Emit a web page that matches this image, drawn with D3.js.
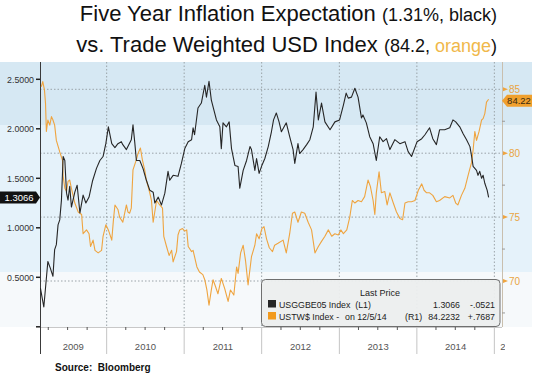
<!DOCTYPE html>
<html>
<head>
<meta charset="utf-8">
<script src="https://cdnjs.cloudflare.com/ajax/libs/d3/7.8.5/d3.min.js"></script>
<style>
  body { margin: 0; background: #fff; }
  svg { display: block; font-family: "Liberation Sans", Arial, sans-serif; }
</style>
</head>
<body>
<div class="chart"></div>
<script>
// USGGBE05 Index (left axis)
const breakeven = [
  ["2009-02-23",0.39],["2009-03-11",0.20],["2009-03-30",0.66],["2009-04-11",0.59],["2009-04-23",0.51],["2009-05-01",0.78],
  ["2009-05-09",0.83],["2009-05-17",1.03],["2009-05-25",1.08],["2009-06-02",1.28],["2009-06-10",1.72],["2009-06-18",1.68],
  ["2009-06-26",1.35],["2009-07-03",1.28],["2009-07-11",1.42],["2009-07-19",1.21],["2009-08-04",1.36],["2009-08-15",1.43],
  ["2009-08-28",1.15],["2009-09-12",1.33],["2009-09-25",1.25],["2009-10-10",1.31],["2009-10-26",1.47],["2009-11-14",1.60],
  ["2009-11-30",1.68],["2009-12-15",1.72],["2009-12-28",1.85],
  ["2010-01-09",2.02],["2010-01-25",1.85],["2010-02-09",1.81],["2010-02-23",1.85],["2010-03-11",1.87],["2010-03-18",1.84],
  ["2010-04-04",1.79],["2010-04-27",1.89],["2010-05-05",2.04],["2010-05-13",1.87],["2010-05-21",1.68],["2010-06-06",1.68],
  ["2010-06-21",1.60],["2010-07-07",1.48],["2010-07-23",1.38],["2010-08-08",1.36],["2010-08-16",1.25],["2010-09-01",1.31],
  ["2010-09-16",1.23],["2010-10-02",1.35],["2010-10-17",1.57],["2010-10-25",1.48],["2010-11-10",1.53],["2010-12-03",1.52],
  ["2010-12-19",1.65],
  ["2011-01-04",1.80],["2011-01-20",1.87],["2011-02-05",1.89],["2011-02-12",2.01],["2011-02-19",1.94],["2011-03-07",2.21],
  ["2011-03-23",2.26],["2011-04-08",2.44],["2011-04-16",2.32],["2011-04-28",2.48],["2011-05-09",2.29],["2011-06-02",2.09],
  ["2011-06-18",2.02],["2011-06-25",1.80],["2011-07-03",2.06],["2011-07-19",2.02],["2011-08-01",2.07],["2011-08-12",1.80],
  ["2011-08-28",1.63],["2011-09-12",1.62],["2011-09-20",1.40],["2011-10-06",1.58],["2011-10-22",1.68],["2011-11-07",1.82],
  ["2011-11-14",1.79],["2011-11-30",1.58],["2011-12-08",1.70],["2011-12-20",1.55],
  ["2012-01-02",1.63],["2012-01-16",1.70],["2012-02-01",1.82],["2012-02-16",1.97],["2012-02-26",2.09],["2012-03-10",2.16],
  ["2012-03-23",2.07],["2012-04-03",1.97],["2012-04-26",2.06],["2012-05-12",1.92],["2012-05-28",1.79],["2012-06-05",1.65],
  ["2012-06-20",1.85],["2012-06-28",1.75],["2012-07-14",1.79],["2012-07-31",1.84],["2012-08-15",1.89],["2012-08-31",2.02],
  ["2012-09-13",2.37],["2012-09-24",2.09],["2012-10-09",2.26],["2012-10-25",2.07],["2012-11-18",1.99],["2012-12-11",2.07],
  ["2013-01-02",2.09],["2013-01-20",2.24],["2013-02-02",2.36],["2013-02-12",2.31],["2013-02-27",2.32],["2013-03-15",2.41],
  ["2013-03-30",2.32],["2013-04-15",2.11],["2013-04-22",2.14],["2013-05-08",2.06],["2013-05-24",1.92],["2013-06-09",1.85],
  ["2013-06-24",1.68],["2013-07-10",1.92],["2013-07-26",1.87],["2013-08-11",1.90],["2013-08-27",1.79],["2013-09-19",1.89],
  ["2013-10-13",1.85],["2013-11-06",1.87],["2013-11-21",1.77],["2013-12-07",1.72],
  ["2014-01-02",1.87],["2014-01-24",1.90],["2014-02-08",1.94],["2014-03-02",2.01],["2014-03-17",1.90],["2014-04-03",1.84],
  ["2014-04-18",1.99],["2014-05-12",1.99],["2014-06-05",2.01],["2014-06-20",2.09],["2014-07-03",2.07],["2014-07-22",2.02],
  ["2014-08-07",1.95],["2014-08-23",1.89],["2014-09-08",1.82],["2014-09-16",1.72],["2014-09-23",1.62],["2014-10-09",1.58],
  ["2014-10-16",1.53],["2014-10-24",1.57],["2014-11-02",1.50],["2014-11-09",1.53],["2014-11-17",1.45],["2014-11-28",1.38],
  ["2014-12-05",1.3066]
]

// USTW$ Index (right axis)
const usdIndex = [
  ["2009-02-27",85.2],["2009-03-06",85.6],["2009-03-14",84.95],["2009-03-19",83.9],["2009-03-23",81.7],["2009-03-30",82.6],
  ["2009-04-08",82.2],["2009-04-16",82.86],["2009-04-23",82.6],["2009-05-01",82.2],["2009-05-09",81.0],["2009-05-25",80.1],
  ["2009-06-07",79.45],["2009-06-10",78.2],["2009-06-18",77.25],["2009-06-26",77.0],["2009-07-03",77.8],["2009-07-11",77.9],
  ["2009-07-19",77.25],["2009-08-04",76.1],["2009-08-20",75.4],["2009-09-05",75.2],["2009-09-12",73.7],["2009-09-28",74.0],
  ["2009-10-10",73.7],["2009-10-17",72.7],["2009-10-29",73.2],["2009-11-07",72.4],["2009-11-22",72.2],["2009-12-08",72.4],
  ["2009-12-15",73.5],["2009-12-28",74.4],
  ["2010-01-09",74.0],["2010-01-25",73.2],["2010-02-02",74.8],["2010-02-09",75.95],["2010-02-23",75.6],["2010-03-03",75.0],
  ["2010-03-18",74.6],["2010-04-04",75.95],["2010-04-11",75.4],["2010-04-19",75.3],["2010-04-27",75.7],["2010-05-05",78.7],
  ["2010-05-21",79.5],["2010-05-29",80.0],["2010-06-09",80.4],["2010-06-18",79.5],["2010-06-29",78.7],["2010-07-07",77.9],
  ["2010-07-23",76.9],["2010-07-31",76.3],["2010-08-08",74.6],["2010-08-24",76.3],["2010-09-08",75.95],["2010-09-21",75.7],
  ["2010-09-27",73.5],["2010-10-10",72.7],["2010-10-22",72.0],["2010-11-03",72.4],["2010-11-10",71.5],["2010-11-26",72.3],
  ["2010-12-03",73.6],["2010-12-11",74.0],["2010-12-24",74.1],
  ["2011-01-04",73.9],["2011-01-13",74.0],["2011-01-20",72.7],["2011-02-05",72.3],["2011-02-12",72.4],["2011-03-02",71.1],
  ["2011-03-14",70.7],["2011-03-30",70.5],["2011-04-08",70.1],["2011-04-18",69.3],["2011-04-28",68.1],["2011-05-09",69.3],
  ["2011-05-17",70.1],["2011-05-29",69.55],["2011-06-09",69.0],["2011-06-25",70.2],["2011-07-11",69.4],["2011-07-27",68.4],
  ["2011-08-07",69.3],["2011-08-23",68.9],["2011-09-05",71.1],["2011-09-12",70.6],["2011-09-24",72.2],["2011-10-06",72.8],
  ["2011-10-17",71.6],["2011-10-29",69.7],["2011-11-14",71.9],["2011-11-30",72.8],["2011-12-08",73.7],["2011-12-20",73.3],
  ["2012-01-02",74.1],["2012-01-12",74.25],["2012-01-24",73.3],["2012-02-06",72.6],["2012-02-21",72.3],["2012-03-02",72.8],
  ["2012-03-18",72.95],["2012-04-11",73.2],["2012-04-26",72.2],["2012-05-12",73.7],["2012-05-25",75.3],["2012-06-05",75.4],
  ["2012-06-20",74.6],["2012-07-06",75.4],["2012-07-22",75.3],["2012-08-07",74.6],["2012-08-23",74.0],["2012-09-08",72.2],
  ["2012-09-24",72.7],["2012-10-09",73.1],["2012-10-25",73.5],["2012-11-10",74.0],["2012-11-26",73.5],["2012-12-11",73.7],
  ["2012-12-27",73.6],
  ["2013-01-08",74.0],["2013-01-20",73.7],["2013-02-05",74.0],["2013-02-19",75.0],["2013-03-03",76.3],["2013-03-15",76.1],
  ["2013-03-30",76.3],["2013-04-15",76.2],["2013-04-30",76.6],["2013-05-16",77.9],["2013-05-27",77.4],["2013-06-09",76.3],
  ["2013-06-17",75.2],["2013-06-24",76.9],["2013-07-07",78.55],["2013-07-18",76.9],["2013-08-03",77.0],["2013-08-14",75.95],
  ["2013-08-27",76.9],["2013-09-12",76.1],["2013-09-27",75.4],["2013-10-13",74.9],["2013-10-26",74.8],["2013-11-06",76.1],
  ["2013-11-21",76.2],["2013-12-07",76.2],["2013-12-23",76.3],
  ["2014-01-08",77.1],["2014-01-24",77.6],["2014-02-04",77.1],["2014-02-16",76.9],["2014-03-02",76.9],["2014-03-17",76.7],
  ["2014-04-03",76.2],["2014-04-18",76.3],["2014-05-12",76.6],["2014-06-05",76.5],["2014-06-20",76.7],["2014-07-03",76.1],
  ["2014-07-13",75.95],["2014-07-30",76.7],["2014-08-15",77.25],["2014-08-31",78.3],["2014-09-16",79.3],["2014-09-23",80.25],
  ["2014-10-01",81.7],["2014-10-09",81.0],["2014-10-21",81.7],["2014-11-02",82.6],["2014-11-09",82.7],["2014-11-17",83.1],
  ["2014-11-25",84.0],["2014-12-05",84.2232]
]

const leftTicks = [0, 0.5, 1, 1.5, 2, 2.5]
const rightTicks = [70, 75, 80, 85]
const rightMinor = [67.5, 72.5, 77.5, 82.5]
const years = [2009, 2010, 2011, 2012, 2013, 2014, 2015]

const legendNames = ["USGGBE05 Index  (L1)", "USTW$ Index -"]
const legendNotes = ["", "on 12/5/14"]
const legendSides = ["", "(R1)"]
const legendLast = ["1.3066", "84.2232"]
const legendChange = ["-.0521", "+.7687"]

const lastBE = "1.3066"
const lastUSD = "84.22"

const width = 539
const height = 377
const plot = {left: 40, right: 502, top: 62, bottom: 327}
const black = "#262626"
const orange = "#efa43f"

const parse = d3.timeParse("%Y-%m-%d")

const x = d3.scaleTime()
  .domain([new Date(2009, 1, 21), new Date(2015, 1, 6)])
  .range([plot.left, plot.right])

const yL = d3.scaleLinear()
  .domain([0, 2.5])
  .range([326.8, 79.3])

const yR = d3.scaleLinear()
  .domain([70, 85])
  .range([281, 89.3])

const svg = d3.select(".chart").append("svg")
  .attr("width", width)
  .attr("height", height)

svg.append("defs").append("clipPath").attr("id", "plotclip")
  .append("rect")
  .attr("x", plot.left).attr("y", plot.top)
  .attr("width", plot.right - plot.left).attr("height", plot.bottom - plot.top)

svg.select("defs").append("clipPath").attr("id", "yearclip")
  .append("rect")
  .attr("x", plot.left).attr("y", plot.bottom)
  .attr("width", 465).attr("height", 30)

// background bands
const bands = [[62, 125, "#d6e8f3"], [125, 272, "#e5f2fa"], [272, 327, "#f6f9fb"]]
svg.selectAll("rect.band")
  .data(bands)
  .enter()
  .append("rect")
  .attr("class", "band")
  .attr("x", 0)
  .attr("y", d => d[0])
  .attr("width", 532)
  .attr("height", d => d[1] - d[0])
  .attr("fill", d => d[2])

// dotted grid
svg.selectAll("line.hgrid")
  .data(rightTicks)
  .enter()
  .append("line")
  .attr("class", "hgrid")
  .attr("x1", plot.left).attr("x2", plot.right)
  .attr("y1", d => yR(d)).attr("y2", d => yR(d))
  .attr("stroke", "#9aa3a8")
  .attr("stroke-dasharray", "1.5,2")

svg.selectAll("line.vgrid")
  .data(years.slice(1))
  .enter()
  .append("line")
  .attr("class", "vgrid")
  .attr("x1", d => x(new Date(d, 0, 1))).attr("x2", d => x(new Date(d, 0, 1)))
  .attr("y1", plot.top).attr("y2", plot.bottom)
  .attr("stroke", "#9aa3a8")
  .attr("stroke-dasharray", "1.5,2")

// bottom axis strip
svg.append("rect")
  .attr("x", 0).attr("y", plot.bottom)
  .attr("width", width).attr("height", 50)
  .attr("fill", "#fff")

svg.append("line")
  .attr("x1", plot.left).attr("x2", plot.right)
  .attr("y1", plot.bottom + 0.5).attr("y2", plot.bottom + 0.5)
  .attr("stroke", "#c8c8c8")

svg.selectAll("line.sep")
  .data(years.slice(1))
  .enter()
  .append("line")
  .attr("class", "sep")
  .attr("x1", d => x(new Date(d, 0, 1))).attr("x2", d => x(new Date(d, 0, 1)))
  .attr("y1", plot.bottom).attr("y2", 354)
  .attr("stroke", "#c4c4c4")

const quarters = x.ticks(d3.timeMonth.every(3)).filter(d => d.getMonth() !== 0)
svg.selectAll("line.qtick")
  .data(quarters)
  .enter()
  .append("line")
  .attr("class", "qtick")
  .attr("x1", d => x(d)).attr("x2", d => x(d))
  .attr("y1", plot.bottom).attr("y2", plot.bottom + 3)
  .attr("stroke", "#555")

svg.append("g")
  .attr("clip-path", "url(#yearclip)")
  .selectAll("text")
  .data(years)
  .enter()
  .append("text")
  .attr("x", function(d) {
    const a = Math.max(x(new Date(d, 0, 1)), plot.left)
    const b = Math.min(x(new Date(d + 1, 0, 1)), plot.right)
    return b - a < 30 ? a + 6 : (a + b) / 2
  })
  .attr("text-anchor", function(d) {
    const a = Math.max(x(new Date(d, 0, 1)), plot.left)
    const b = Math.min(x(new Date(d + 1, 0, 1)), plot.right)
    return b - a < 30 ? "start" : "middle"
  })
  .attr("y", 350)
  .attr("font-size", "9.5px")
  .attr("fill", "#555")
  .text(d => d)

// left axis
svg.append("line")
  .attr("x1", plot.left + 0.5).attr("x2", plot.left + 0.5)
  .attr("y1", plot.top).attr("y2", 354)
  .attr("stroke", "#3a3a3a")

svg.selectAll("line.ltick")
  .data(leftTicks)
  .enter()
  .append("line")
  .attr("class", "ltick")
  .attr("x1", 36).attr("x2", plot.left)
  .attr("y1", d => yL(d)).attr("y2", d => yL(d))
  .attr("stroke", "#222")
  .attr("stroke-width", 1.5)

svg.selectAll("text.llabel")
  .data(leftTicks.filter(d => d > 0))
  .enter()
  .append("text")
  .attr("class", "llabel")
  .attr("x", 34)
  .attr("y", d => yL(d) + 3.2)
  .attr("text-anchor", "end")
  .attr("font-size", "8.8px")
  .attr("fill", "#333")
  .text(d => d3.format(".4f")(d))

// right axis
svg.append("line")
  .attr("x1", plot.right + 0.5).attr("x2", plot.right + 0.5)
  .attr("y1", plot.top).attr("y2", plot.bottom)
  .attr("stroke", "#c9bfae")

svg.selectAll("path.rtick")
  .data(rightTicks)
  .enter()
  .append("path")
  .attr("class", "rtick")
  .attr("d", d => "M" + (plot.right + 1) + "," + (yR(d) - 2) + "L" + (plot.right + 6) + "," + yR(d) + "L" + (plot.right + 1) + "," + (yR(d) + 2) + "Z")
  .attr("fill", orange)

svg.selectAll("line.rminor")
  .data(rightMinor)
  .enter()
  .append("line")
  .attr("class", "rminor")
  .attr("x1", plot.right).attr("x2", plot.right + 3)
  .attr("y1", d => yR(d)).attr("y2", d => yR(d))
  .attr("stroke", "#999")

svg.selectAll("text.rlabel")
  .data(rightTicks)
  .enter()
  .append("text")
  .attr("class", "rlabel")
  .attr("x", plot.right + 7)
  .attr("y", d => yR(d) + 3.5)
  .attr("font-size", "10px")
  .attr("fill", "#e9a542")
  .text(d => d)

// series
const lineL = d3.line()
  .x(d => x(parse(d[0])))
  .y(d => yL(d[1]))

const lineR = d3.line()
  .x(d => x(parse(d[0])))
  .y(d => yR(d[1]))

const lines = svg.append("g").attr("clip-path", "url(#plotclip)")

lines.append("path")
  .datum(usdIndex)
  .attr("d", lineR)
  .attr("fill", "none")
  .attr("stroke", orange)
  .attr("stroke-width", 1.1)
  .attr("stroke-linejoin", "round")

lines.append("path")
  .datum(breakeven)
  .attr("d", lineL)
  .attr("fill", "none")
  .attr("stroke", black)
  .attr("stroke-width", 1.1)
  .attr("stroke-linejoin", "round")

// last value tags
const yb = yL(+lastBE)
svg.append("path")
  .attr("d", "M0," + (yb - 6) + "H36L40," + yb + "L36," + (yb + 6) + "H0Z")
  .attr("fill", "#111")
svg.append("text")
  .attr("x", 19).attr("y", yb + 3.5)
  .attr("text-anchor", "middle")
  .attr("font-size", "9.5px")
  .attr("fill", "#fff")
  .text(lastBE)

const yo = yR(+lastUSD) + 1.5
svg.append("path")
  .attr("d", "M" + plot.right + "," + yo + "L507," + (yo - 6) + "H532V" + (yo + 6) + "H507Z")
  .attr("fill", "#f0a02e")
svg.append("text")
  .attr("x", 519).attr("y", yo + 3.5)
  .attr("text-anchor", "middle")
  .attr("font-size", "9.5px")
  .attr("fill", "#3a2a10")
  .text(lastUSD)

// legend
const legend = svg.append("g")
legend.append("rect")
  .attr("x", 261.5).attr("y", 279.5)
  .attr("width", 238.5).attr("height", 47)
  .attr("rx", 4)
  .attr("fill", "#eceeee")
  .attr("fill-opacity", 0.95)
  .attr("stroke", "#6f6f6f")

legend.append("text")
  .attr("x", 380).attr("y", 296)
  .attr("text-anchor", "middle")
  .attr("font-size", "9px")
  .attr("fill", "#222")
  .text("Last Price")

const rowY = [307.5, 319.5]
const swatch = [black, "#f29a1e"]
legendNames.forEach(function(name, i) {
  legend.append("rect")
    .attr("x", 268).attr("y", rowY[i] - 7.5)
    .attr("width", 8).attr("height", 7.5)
    .attr("fill", swatch[i])
  const row = [[279, name, "start"], [345, legendNotes[i], "start"], [405, legendSides[i], "start"],
    [460, legendLast[i], "end"], [495, legendChange[i], "end"]]
  legend.selectAll(null)
    .data(row)
    .enter()
    .append("text")
    .attr("x", d => d[0])
    .attr("y", rowY[i])
    .attr("text-anchor", d => d[2])
    .attr("font-size", "8.8px")
    .attr("fill", "#222")
    .attr("xml:space", "preserve")
    .text(d => d[1])
})

// title and source
const title = svg.append("text")
  .attr("x", 497).attr("y", 21)
  .attr("text-anchor", "end")
  .attr("fill", "#111")
title.append("tspan").attr("font-size", "22px").text("Five Year Inflation Expectation ")
title.append("tspan").attr("font-size", "18px").text("(1.31%, black)")

const title2 = svg.append("text")
  .attr("x", 497).attr("y", 51.5)
  .attr("text-anchor", "end")
  .attr("fill", "#111")
title2.append("tspan").attr("font-size", "22px").text("vs. Trade Weighted USD Index ")
title2.append("tspan").attr("font-size", "18px").text("(84.2, ")
title2.append("tspan").attr("font-size", "18px").attr("fill", "#f0b84a").text("orange")
title2.append("tspan").attr("font-size", "18px").text(")")

svg.append("text")
  .attr("x", 55).attr("y", 370.5)
  .attr("font-size", "10px")
  .attr("font-weight", "bold")
  .attr("fill", "#111")
  .attr("xml:space", "preserve")
  .text("Source:  Bloomberg")
</script>
</body>
</html>
